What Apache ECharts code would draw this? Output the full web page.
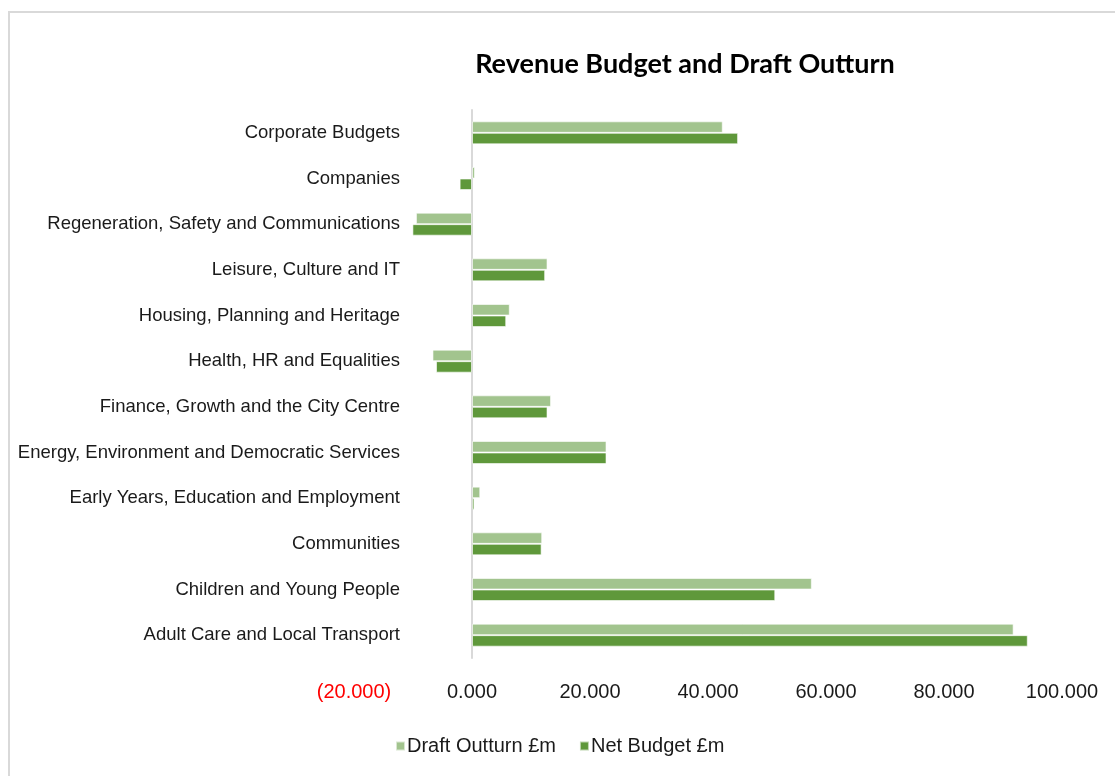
<!DOCTYPE html>
<html>
<head>
<meta charset="utf-8">
<script src="https://cdn.jsdelivr.net/npm/echarts@6/dist/echarts.min.js"></script>
<style>
html,body{margin:0;padding:0;background:#fff;}
#frame{position:absolute;left:8px;top:11px;width:1107px;height:765px;border-top:2px solid #d9d9d9;border-left:2px solid #d9d9d9;box-sizing:border-box;}
#chart{position:absolute;left:0;top:0;width:1115px;height:776px;}
</style>
</head>
<body>
<div id="frame"></div>
<div id="chart"></div>
<script>
// Categories listed bottom to top
const categories = [
  'Adult Care and Local Transport',
  'Children and Young People',
  'Communities',
  'Early Years, Education and Employment',
  'Energy, Environment and Democratic Services',
  'Finance, Growth and the City Centre',
  'Health, HR and Equalities',
  'Housing, Planning and Heritage',
  'Leisure, Culture and IT',
  'Regeneration, Safety and Communications',
  'Companies',
  'Corporate Budgets'
];
const draftOutturn = [91.8, 57.6, 11.9, 1.4, 22.8, 13.4, -6.7, 6.4, 12.8, -9.5, 0.5, 42.5];
const netBudget    = [94.2, 51.4, 11.8, 0.4, 22.8, 12.8, -6.1, 5.8, 12.4, -10.1, -2.1, 45.1];
const xTicks = { min: -20, max: 100, step: 20 };
const seriesNames = ['Draft Outturn £m', 'Net Budget £m'];
const titleText = 'Revenue Budget and Draft Outturn';

const chart = echarts.init(document.getElementById('chart'), null, {renderer: 'canvas'});
const font = '"Liberation Sans", Arial, sans-serif';
const barStyle = (c) => ({ color: c, borderColor: 'rgba(255,255,255,0.6)', borderWidth: 1 });
chart.setOption({
  backgroundColor: 'transparent',
  animation: false,
  title: {
    text: titleText,
    left: 680, top: 46, textAlign: 'center',
    textStyle: { fontFamily: 'Lato, "DejaVu Sans Condensed", sans-serif', fontWeight: 'bold', fontSize: 27, color: '#000' }
  },
  legend: {
    bottom: 15, left: 390,
    itemWidth: 9, itemHeight: 9, itemGap: 23, icon: 'rect',
    textStyle: { fontFamily: font, fontSize: 20, color: '#1a1a1a', padding: [0, 0, 0, -3] },
    data: seriesNames
  },
  grid: { left: 354, right: 53, top: 110, bottom: 118, containLabel: false, outerBoundsMode: 'none' },
  xAxis: {
    type: 'value', min: xTicks.min, max: xTicks.max, interval: xTicks.step,
    axisLine: { show: false }, axisTick: { show: false }, splitLine: { show: false },
    axisLabel: {
      margin: 24,
      fontFamily: font, fontSize: 20, color: '#1a1a1a',
      formatter: (v) => v < 0 ? '{neg|(' + Math.abs(v).toFixed(3) + ')}' : v.toFixed(3),
      rich: { neg: { color: '#ff0000', fontFamily: font, fontSize: 20 } }
    }
  },
  yAxis: {
    type: 'category', data: categories,
    axisLine: { show: true, onZero: true, lineStyle: { color: '#d9d9d9', width: 2 } },
    axisTick: { show: false },
    axisLabel: { margin: -46, fontFamily: font, fontSize: 18.5, color: '#1a1a1a' }
  },
  series: [
    { name: seriesNames[0], type: 'bar', data: draftOutturn, barWidth: 11.5, barGap: '0%', itemStyle: barStyle('#a2c48e') },
    { name: seriesNames[1], type: 'bar', data: netBudget, barWidth: 11.5, barGap: '0%', itemStyle: barStyle('#5f983b') }
  ]
});
</script>
</body>
</html>
